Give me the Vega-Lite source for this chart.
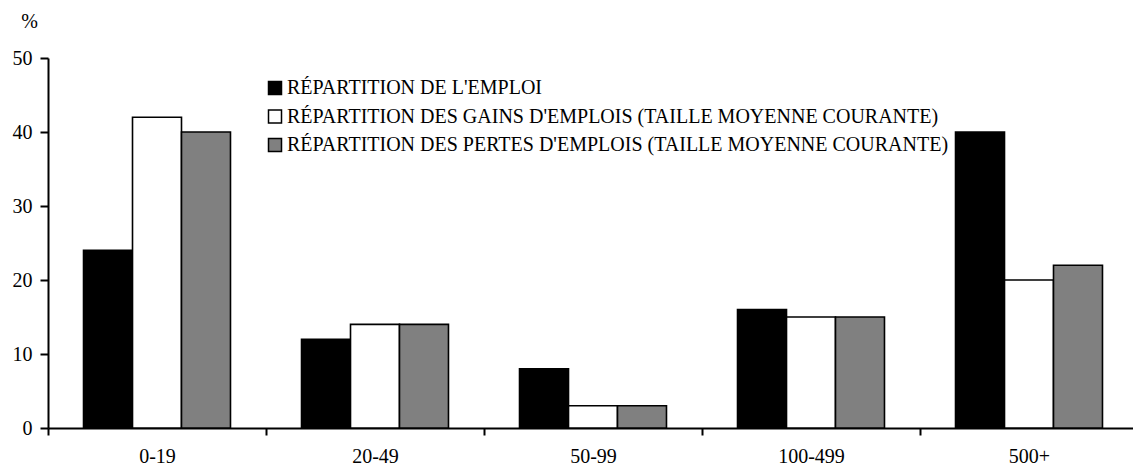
{
  "$schema": "https://vega.github.io/schema/vega-lite/v6.json",
  "autosize": {"type": "none"},
  "width": 1090,
  "height": 370,
  "padding": {"left": 48, "top": 58, "right": 0, "bottom": 40},
  "background": "white",
  "config": {
    "font": "Liberation Serif",
    "view": {"stroke": null},
    "axis": {"grid": false, "domainColor": "black", "domainWidth": 2, "tickColor": "black", "tickWidth": 2, "labelColor": "black", "labelOverlap": false, "labelFont": "Liberation Serif", "titleFont": "Liberation Serif"}
  },
  "data": {
    "values": [
      {"taille": "0-19", "serie": "RÉPARTITION DE L'EMPLOI", "ordre": 1, "pct": 24},
      {"taille": "0-19", "serie": "RÉPARTITION DES GAINS D'EMPLOIS (TAILLE MOYENNE COURANTE)", "ordre": 2, "pct": 42},
      {"taille": "0-19", "serie": "RÉPARTITION DES PERTES D'EMPLOIS (TAILLE MOYENNE COURANTE)", "ordre": 3, "pct": 40},
      {"taille": "20-49", "serie": "RÉPARTITION DE L'EMPLOI", "ordre": 1, "pct": 12},
      {"taille": "20-49", "serie": "RÉPARTITION DES GAINS D'EMPLOIS (TAILLE MOYENNE COURANTE)", "ordre": 2, "pct": 14},
      {"taille": "20-49", "serie": "RÉPARTITION DES PERTES D'EMPLOIS (TAILLE MOYENNE COURANTE)", "ordre": 3, "pct": 14},
      {"taille": "50-99", "serie": "RÉPARTITION DE L'EMPLOI", "ordre": 1, "pct": 8},
      {"taille": "50-99", "serie": "RÉPARTITION DES GAINS D'EMPLOIS (TAILLE MOYENNE COURANTE)", "ordre": 2, "pct": 3},
      {"taille": "50-99", "serie": "RÉPARTITION DES PERTES D'EMPLOIS (TAILLE MOYENNE COURANTE)", "ordre": 3, "pct": 3},
      {"taille": "100-499", "serie": "RÉPARTITION DE L'EMPLOI", "ordre": 1, "pct": 16},
      {"taille": "100-499", "serie": "RÉPARTITION DES GAINS D'EMPLOIS (TAILLE MOYENNE COURANTE)", "ordre": 2, "pct": 15},
      {"taille": "100-499", "serie": "RÉPARTITION DES PERTES D'EMPLOIS (TAILLE MOYENNE COURANTE)", "ordre": 3, "pct": 15},
      {"taille": "500+", "serie": "RÉPARTITION DE L'EMPLOI", "ordre": 1, "pct": 40},
      {"taille": "500+", "serie": "RÉPARTITION DES GAINS D'EMPLOIS (TAILLE MOYENNE COURANTE)", "ordre": 2, "pct": 20},
      {"taille": "500+", "serie": "RÉPARTITION DES PERTES D'EMPLOIS (TAILLE MOYENNE COURANTE)", "ordre": 3, "pct": 22}
    ]
  },
  "mark": {"type": "bar", "stroke": "black", "strokeWidth": 1.6},
  "encoding": {
    "x": {
      "field": "taille", "type": "nominal", "sort": null,
      "scale": {"paddingInner": 0, "paddingOuter": 0},
      "axis": {"title": null, "labelAngle": 0, "tickBand": "extent", "tickSize": 7, "labelPadding": 11, "labelFontSize": 20}
    },
    "xOffset": {"field": "serie", "type": "nominal", "sort": {"field": "ordre"}, "scale": {"paddingInner": 0, "paddingOuter": 0.725}},
    "y": {
      "field": "pct", "type": "quantitative",
      "scale": {"domain": [0, 50], "nice": false},
      "axis": {"title": "%", "titleAngle": 0, "titleX": -19, "titleY": -27, "titleFontSize": 20, "titleFontWeight": "normal", "titleAlign": "center", "titleColor": "black", "values": [0, 10, 20, 30, 40, 50], "tickSize": 8, "labelPadding": 8, "labelFontSize": 20}
    },
    "fill": {
      "field": "serie", "type": "nominal", "sort": {"field": "ordre"},
      "scale": {"range": ["black", "white", "#808080"]},
      "legend": {
        "title": null, "orient": "none", "legendX": 217, "legendY": 20,
        "symbolType": "square", "symbolSize": 169, "symbolStrokeColor": "black", "symbolStrokeWidth": 1.5,
        "labelFontSize": 20, "labelFont": "Liberation Serif", "labelColor": "black", "labelOffset": 2, "labelLimit": 900,
        "rowPadding": 8.5, "padding": 0
      }
    }
  }
}
